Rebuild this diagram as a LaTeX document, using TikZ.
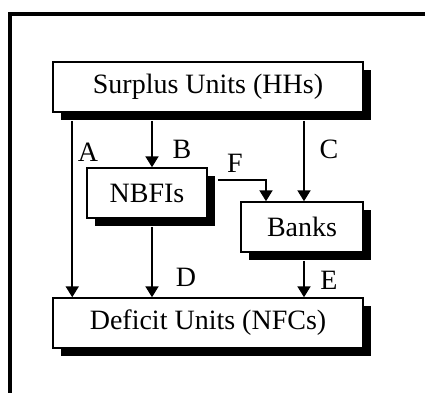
\documentclass[tikz,border=0pt]{standalone}
\usepackage{fontspec}
\setmainfont{Liberation Serif}
\usetikzlibrary{arrows.meta,shadows}
\tikzset{
  unit/.style={draw,line width=1.5pt,fill=white,minimum height=50pt,
    inner sep=0pt,font=\fontsize{28}{31}\selectfont,
    drop shadow={shadow xshift=8pt,shadow yshift=-8pt,opacity=1,fill=black}},
  flow/.style={line width=2pt,-{Triangle[width=13pt,length=11pt]}},
  lbl/.style={font=\fontsize{28}{31}\selectfont,inner sep=0pt}
}
\begin{document}
\begin{tikzpicture}[x=1pt,y=-1pt]
\useasboundingbox (0,0) rectangle (425,392);
\draw[line width=4pt] (10,14) rectangle (440,410);
% boxes
\node[unit,minimum width=310pt] (sur) at (208,87) {Surplus Units (HHs)};
\node[unit,minimum width=120pt] (nb) at (147,193) {NBFIs};
\node[unit,minimum width=122pt] (bk) at (302,227) {Banks};
\node[unit,minimum width=310pt] (def) at (208,323) {Deficit Units (NFCs)};
% flows
\draw[flow] ([xshift=20pt,yshift=-8pt]sur.south west) -- ([xshift=20pt]def.north west);
\draw[flow] ([xshift=5pt,yshift=-8pt]sur.south -| nb.north) -- ([xshift=5pt]nb.north);
\draw[flow] ([xshift=2pt,yshift=-8pt]sur.south -| bk.north) -- ([xshift=2pt]bk.north);
\draw[flow] ([xshift=10pt,yshift=13pt]nb.east) -| ([xshift=-36pt]bk.north);
\draw[flow] ([xshift=5pt,yshift=-8pt]nb.south) -- ([xshift=5pt]def.north -| nb.south);
\draw[flow] ([xshift=2pt,yshift=-8pt]bk.south) -- ([xshift=2pt]def.north -| bk.south);
% labels
\node[lbl] (la) at (88,152) {A};
\node[lbl] (lb) at (182,149) {B};
\node[lbl] (lc) at (329,149) {C};
\node[lbl] (lf) at (235,163) {F};
\node[lbl] (ld) at (186,277) {D};
\node[lbl] (le) at (329,280) {E};
\end{tikzpicture}
\end{document}
